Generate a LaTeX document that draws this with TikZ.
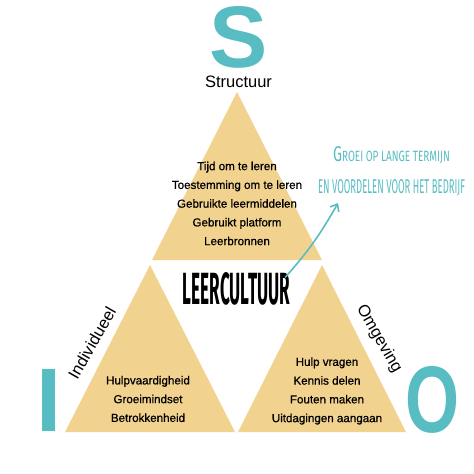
\documentclass[tikz,border=0pt]{standalone}
\usepackage{fontspec}
\setmainfont{Liberation Sans}
\newfontfamily\itemfont[FakeBold=0.7]{Liberation Sans}
\newfontfamily\capsfont{Fira Sans}
\usetikzlibrary{arrows.meta, positioning}
\definecolor{soteal}{HTML}{58BDC3}
\definecolor{sotan}{HTML}{F2D28F}

\begin{document}
\begin{tikzpicture}[x=1pt, y=-1pt,
  tri/.style={fill=sotan, draw=none},
  big/.style={text=soteal, inner sep=0pt},
  lbl/.style={font=\fontsize{16.5}{18}\selectfont, inner sep=0pt},
  items/.style={font=\itemfont\fontsize{11.6}{18.75}\selectfont, align=center, inner sep=0pt},
  goal/.style={font=\capsfont, text=soteal, inner sep=0pt},
  arr/.style={-{Straight Barb[length=6pt, width=10pt]}, line width=1.6pt, soteal}
]
  \useasboundingbox (0,0) rectangle (474,474);

  % Triangles
  \fill[tri] (152,260) -- (322,260) -- (237,92) -- cycle;
  \fill[tri] (65,432) -- (235,432) -- (150,265) -- cycle;
  \fill[tri] (238,432) -- (406,432) -- (322,265) -- cycle;

  % Letters
  \node[big] (s) at (238.5,37.5) {\resizebox{!}{61pt}{\bfseries S}};
  \node[big] (i) at (49.5,400) {\resizebox{!}{62pt}{\bfseries I}};
  \node[big] (o) at (432.5,400) {\resizebox{54pt}{66pt}{\bfseries O}};

  % Labels
  \node[lbl] (struct) at (238.5,81.5) {Structuur};
  \node[lbl, rotate=60] (indiv) at (92,343) {Individueel};
  \node[lbl, rotate=-60] (omg) at (379,339) {Omgeving};

  % Contents
  \node[items] (toplist) at (237,203.5) {Tijd om te leren\\Toestemming om te leren\\
    Gebruikte leermiddelen\\Gebruikt platform\\Leerbronnen};
  \node[items] (leftlist) at (148,399) {Hulpvaardigheid\\Groeimindset\\Betrokkenheid};
  \node[items] (rightlist) at (327,391) {Hulp vragen\\Kennis delen\\
    Fouten maken\\Uitdagingen aangaan};

  % Centre
  \node[inner sep=0pt] (lc) at (236.5,289)
    {\resizebox{107pt}{32pt}{\capsfont\bfseries LEERCULTUUR}};

  % Goal
  \node[goal] (goal1) at (391.5,155.5)
    {\resizebox{117pt}{15pt}{{\Large G}ROEI OP LANGE TERMIJN}};
  \node[goal] (goal2) at (391.5,187.5)
    {\resizebox{147pt}{14pt}{EN VOORDELEN VOOR HET BEDRIJF}};
  \coordinate (tip) at (338,203);
  \draw[arr] ([shift={(-5,5)}]lc.north east) to[bend right=6] (tip);
\end{tikzpicture}
\end{document}
